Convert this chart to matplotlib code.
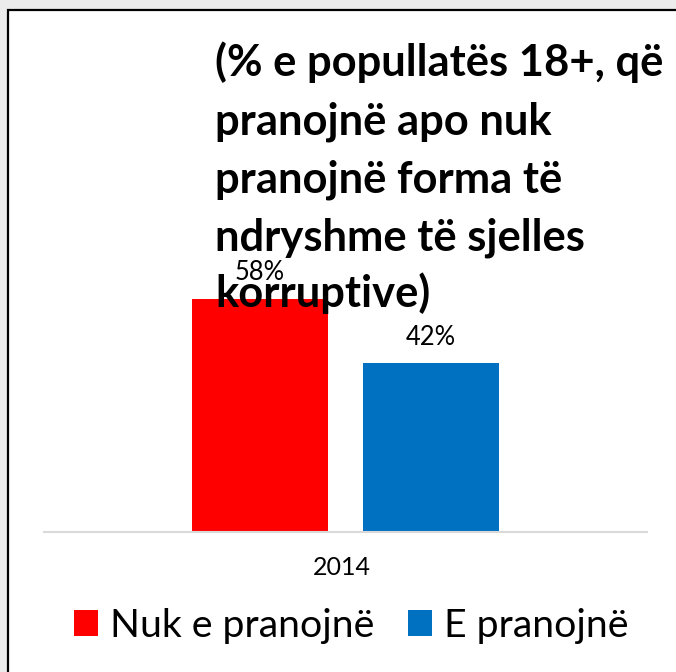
import matplotlib
matplotlib.use("Agg")
import matplotlib.pyplot as plt
from matplotlib.patches import Rectangle

# ---- data ----
categories = ["2014"]
series_names = ["Nuk e pranojnë", "E pranojnë"]
series_values = [58, 42]
series_colors = ["#ff0000", "#0070c0"]
title_lines = ["(% e popullatës 18+, që", "pranojnë apo nuk", "pranojnë forma të",
               "ndryshme të sjelles", "korruptive)"]

W, H = 676, 672
DPI = 100
FONT = "Lato"

def px2pt(px):
    return px * 72.0 / DPI

fig = plt.figure(figsize=(W / DPI, H / DPI), dpi=DPI)
fig.patch.set_facecolor("#ececec")

# white panel with black border (starts at x=8, y=10, runs past right/bottom edge)
fig.patches.append(Rectangle((8 / W, -0.05), 1.1, 1 - 10 / H + 0.05,
                             transform=fig.transFigure, facecolor="white",
                             edgecolor="black", linewidth=1.6, zorder=-5))

# axes placement in pixels
ax_left, ax_right, ax_base = 44, 647, 532
ymax = 70
px_per_unit = 4.02
ax_h = ymax * px_per_unit
ax = fig.add_axes([ax_left / W, (H - ax_base) / H, (ax_right - ax_left) / W, ax_h / H])
ax.set_zorder(1)
ax.set_facecolor("none")
ax.set_xlim(-0.5, 0.5)
ax.set_ylim(0, ymax)
for s in ["left", "right", "top"]:
    ax.spines[s].set_visible(False)
ax.spines["bottom"].set_color("#d9d9d9")
ax.spines["bottom"].set_linewidth(1.5)
ax.set_yticks([])
ax.set_xticks([])

bar_w = 136 / (ax_right - ax_left)
offset = 0.1418
n = len(series_values)
handles = []
for i, (name, val, col) in enumerate(zip(series_names, series_values, series_colors)):
    x = (i - (n - 1) / 2) * 2 * offset
    b = ax.bar(x, val, width=bar_w, color=col, label=name, zorder=2)
    handles.append(b)
    ax.annotate(f"{val}%", xy=(x, val), xytext=(0, px2pt(18.5)), textcoords="offset points",
                ha="center", va="baseline", fontsize=px2pt(25.5), family=FONT,
                color="#000000", zorder=3)

# category label
ax.annotate(categories[0], xy=(0, 0), xycoords="data", xytext=(-px2pt(4), -px2pt(43)),
            textcoords="offset points", ha="center", va="baseline",
            fontsize=px2pt(25), family=FONT, color="#000000")

# title lines (overlaying the plot)
baselines = [76, 134, 192, 250, 307]
for line, yb in zip(title_lines, baselines):
    t = fig.text(215 / W, 1 - yb / H, line, ha="left", va="baseline",
                 fontsize=px2pt(43.5), fontweight="bold", family=FONT, color="#000000")
    t.set_zorder(10)

leg = fig.legend(handles=handles, labels=series_names, loc="center",
                 bbox_to_anchor=(351 / W, 1 - 626 / H), ncol=2, frameon=False,
                 prop={"family": FONT, "size": px2pt(39.3)},
                 handlelength=0.62, handleheight=0.62, handletextpad=0.3,
                 columnspacing=0.85, borderpad=0, borderaxespad=0)
leg.set_zorder(5)

fig.savefig("out.png", dpi=DPI, facecolor=fig.get_facecolor())
